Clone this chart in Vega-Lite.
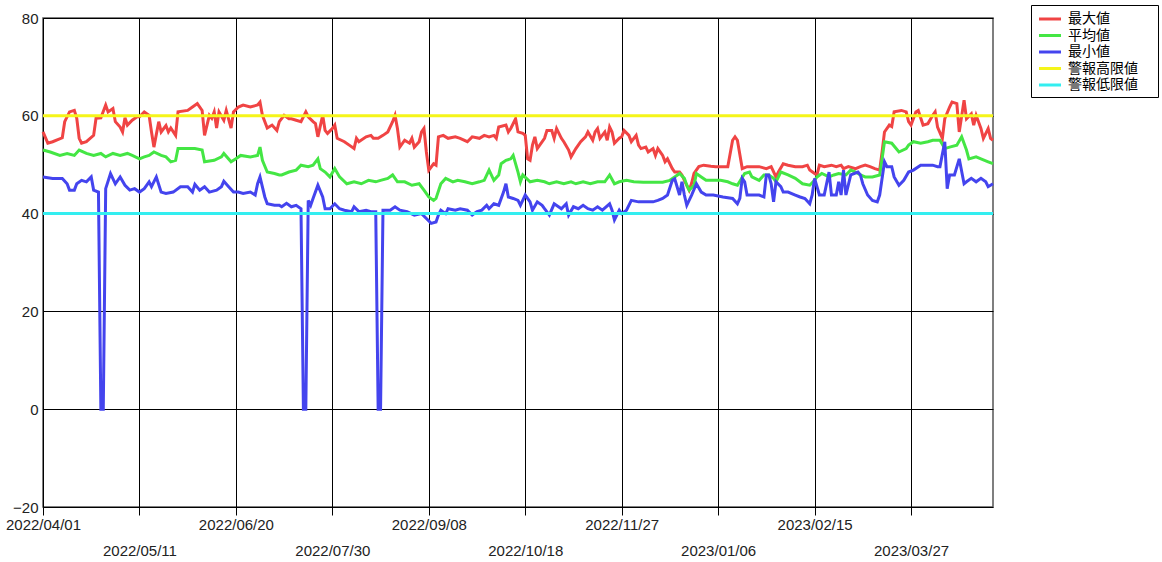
{
  "$schema": "https://vega.github.io/schema/vega-lite/v6.json",
  "width": 950,
  "height": 489,
  "autosize": {"type": "none"},
  "padding": {"left": 43, "top": 18, "right": 169, "bottom": 55},
  "background": "white",
  "config": {
    "view": {"stroke": "#555555", "strokeWidth": 1.5},
    "axis": {"labelFont": "Liberation Sans", "labelFontSize": 15, "labelColor": "#222222", "domain": false, "title": null}
  },
  "datasets": {
    "main": [
      {"date":"2022-04-01","series":"最大値","value":56.7},{"date":"2022-04-03","series":"最大値","value":54.4},{"date":"2022-04-05","series":"最大値","value":54.7},{"date":"2022-04-09","series":"最大値","value":55.5},{"date":"2022-04-10","series":"最大値","value":58.8},{"date":"2022-04-12","series":"最大値","value":60.8},{"date":"2022-04-14","series":"最大値","value":61.1},{"date":"2022-04-15","series":"最大値","value":59.5},{"date":"2022-04-16","series":"最大値","value":55.4},{"date":"2022-04-17","series":"最大値","value":54.4},{"date":"2022-04-19","series":"最大値","value":54.7},{"date":"2022-04-22","series":"最大値","value":56},{"date":"2022-04-23","series":"最大値","value":59.5},{"date":"2022-04-25","series":"最大値","value":59.6},{"date":"2022-04-27","series":"最大値","value":62.2},{"date":"2022-04-28","series":"最大値","value":60.8},{"date":"2022-04-30","series":"最大値","value":61.5},
      {"date":"2022-05-01","series":"最大値","value":58.8},{"date":"2022-05-03","series":"最大値","value":57.7},{"date":"2022-05-04","series":"最大値","value":56.7},{"date":"2022-05-05","series":"最大値","value":59.6},{"date":"2022-05-06","series":"最大値","value":58.1},{"date":"2022-05-08","series":"最大値","value":59.1},{"date":"2022-05-10","series":"最大値","value":59.8},{"date":"2022-05-11","series":"最大値","value":59.8},{"date":"2022-05-13","series":"最大値","value":60.8},{"date":"2022-05-15","series":"最大値","value":60.1},{"date":"2022-05-16","series":"最大値","value":56.7},{"date":"2022-05-17","series":"最大値","value":53.6},{"date":"2022-05-19","series":"最大値","value":58.8},{"date":"2022-05-20","series":"最大値","value":56.7},{"date":"2022-05-22","series":"最大値","value":58},{"date":"2022-05-23","series":"最大値","value":56.7},{"date":"2022-05-24","series":"最大値","value":57.5},{"date":"2022-05-26","series":"最大値","value":56},{"date":"2022-05-27","series":"最大値","value":60.8},{"date":"2022-05-31","series":"最大値","value":61.1},
      {"date":"2022-06-02","series":"最大値","value":61.8},{"date":"2022-06-04","series":"最大値","value":62.5},{"date":"2022-06-06","series":"最大値","value":61.1},{"date":"2022-06-07","series":"最大値","value":56},{"date":"2022-06-09","series":"最大値","value":60.1},{"date":"2022-06-10","series":"最大値","value":59.5},{"date":"2022-06-11","series":"最大値","value":60.8},{"date":"2022-06-12","series":"最大値","value":57.5},{"date":"2022-06-13","series":"最大値","value":60.8},{"date":"2022-06-15","series":"最大値","value":59.1},{"date":"2022-06-16","series":"最大値","value":61.1},{"date":"2022-06-18","series":"最大値","value":57.5},{"date":"2022-06-19","series":"最大値","value":60.8},{"date":"2022-06-21","series":"最大値","value":61.8},{"date":"2022-06-23","series":"最大値","value":62.2},{"date":"2022-06-26","series":"最大値","value":61.8},{"date":"2022-06-29","series":"最大値","value":62.2},{"date":"2022-06-30","series":"最大値","value":62.8},
      {"date":"2022-07-01","series":"最大値","value":60.1},{"date":"2022-07-03","series":"最大値","value":57.5},{"date":"2022-07-05","series":"最大値","value":58.1},{"date":"2022-07-07","series":"最大値","value":57},{"date":"2022-07-08","series":"最大値","value":58.8},{"date":"2022-07-10","series":"最大値","value":60.1},{"date":"2022-07-12","series":"最大値","value":59.4},{"date":"2022-07-13","series":"最大値","value":59.4},{"date":"2022-07-15","series":"最大値","value":59.1},{"date":"2022-07-17","series":"最大値","value":58.8},{"date":"2022-07-19","series":"最大値","value":60.8},{"date":"2022-07-20","series":"最大値","value":59.8},{"date":"2022-07-22","series":"最大値","value":58.8},{"date":"2022-07-23","series":"最大値","value":58.4},{"date":"2022-07-24","series":"最大値","value":55.7},{"date":"2022-07-26","series":"最大値","value":60.1},{"date":"2022-07-27","series":"最大値","value":57},{"date":"2022-07-28","series":"最大値","value":56.4},{"date":"2022-07-30","series":"最大値","value":57.4},{"date":"2022-07-31","series":"最大値","value":58.1},
      {"date":"2022-08-01","series":"最大値","value":55.4},{"date":"2022-08-04","series":"最大値","value":54.7},{"date":"2022-08-06","series":"最大値","value":54},{"date":"2022-08-08","series":"最大値","value":53.3},{"date":"2022-08-09","series":"最大値","value":55.4},{"date":"2022-08-10","series":"最大値","value":54.7},{"date":"2022-08-13","series":"最大値","value":55.7},{"date":"2022-08-15","series":"最大値","value":56},{"date":"2022-08-16","series":"最大値","value":55.4},{"date":"2022-08-18","series":"最大値","value":55.4},{"date":"2022-08-20","series":"最大値","value":56},{"date":"2022-08-22","series":"最大値","value":56.7},{"date":"2022-08-24","series":"最大値","value":58.8},{"date":"2022-08-25","series":"最大値","value":60.1},{"date":"2022-08-26","series":"最大値","value":57.4},{"date":"2022-08-27","series":"最大値","value":53.6},{"date":"2022-08-29","series":"最大値","value":55},{"date":"2022-08-31","series":"最大値","value":54.4},
      {"date":"2022-09-01","series":"最大値","value":55.4},{"date":"2022-09-02","series":"最大値","value":53.6},{"date":"2022-09-04","series":"最大値","value":54.7},{"date":"2022-09-05","series":"最大値","value":56.7},{"date":"2022-09-06","series":"最大値","value":57.4},{"date":"2022-09-07","series":"最大値","value":52.6},{"date":"2022-09-08","series":"最大値","value":48.9},{"date":"2022-09-10","series":"最大値","value":50.2},{"date":"2022-09-11","series":"最大値","value":49.9},{"date":"2022-09-12","series":"最大値","value":55.7},{"date":"2022-09-14","series":"最大値","value":56},{"date":"2022-09-16","series":"最大値","value":55.4},{"date":"2022-09-19","series":"最大値","value":55.7},{"date":"2022-09-21","series":"最大値","value":55.4},{"date":"2022-09-24","series":"最大値","value":54.7},{"date":"2022-09-26","series":"最大値","value":55.7},{"date":"2022-09-29","series":"最大値","value":55.4},
      {"date":"2022-10-01","series":"最大値","value":56},{"date":"2022-10-03","series":"最大値","value":55.7},{"date":"2022-10-05","series":"最大値","value":56},{"date":"2022-10-06","series":"最大値","value":55.4},{"date":"2022-10-07","series":"最大値","value":57.7},{"date":"2022-10-10","series":"最大値","value":58.1},{"date":"2022-10-11","series":"最大値","value":56.7},{"date":"2022-10-12","series":"最大値","value":57.4},{"date":"2022-10-14","series":"最大値","value":59.4},{"date":"2022-10-15","series":"最大値","value":56.7},{"date":"2022-10-17","series":"最大値","value":56.4},{"date":"2022-10-18","series":"最大値","value":56},{"date":"2022-10-19","series":"最大値","value":51.2},{"date":"2022-10-20","series":"最大値","value":50.9},{"date":"2022-10-21","series":"最大値","value":54},{"date":"2022-10-22","series":"最大値","value":55.7},{"date":"2022-10-23","series":"最大値","value":53.3},{"date":"2022-10-26","series":"最大値","value":55.4},{"date":"2022-10-27","series":"最大値","value":57},{"date":"2022-10-29","series":"最大値","value":57},{"date":"2022-10-30","series":"最大値","value":55.4},{"date":"2022-10-31","series":"最大値","value":57.4},
      {"date":"2022-11-02","series":"最大値","value":55.4},{"date":"2022-11-03","series":"最大値","value":54.7},{"date":"2022-11-05","series":"最大値","value":53},{"date":"2022-11-06","series":"最大値","value":51.6},{"date":"2022-11-08","series":"最大値","value":53.3},{"date":"2022-11-10","series":"最大値","value":54.7},{"date":"2022-11-12","series":"最大値","value":55.7},{"date":"2022-11-13","series":"最大値","value":56.7},{"date":"2022-11-15","series":"最大値","value":55},{"date":"2022-11-16","series":"最大値","value":56.7},{"date":"2022-11-17","series":"最大値","value":57.4},{"date":"2022-11-18","series":"最大値","value":55.4},{"date":"2022-11-20","series":"最大値","value":56.7},{"date":"2022-11-21","series":"最大値","value":55},{"date":"2022-11-22","series":"最大値","value":57.7},{"date":"2022-11-23","series":"最大値","value":56.7},{"date":"2022-11-24","series":"最大値","value":54.4},{"date":"2022-11-26","series":"最大値","value":55.4},{"date":"2022-11-27","series":"最大値","value":55.7},{"date":"2022-11-28","series":"最大値","value":57},{"date":"2022-11-30","series":"最大値","value":56},
      {"date":"2022-12-01","series":"最大値","value":54.7},{"date":"2022-12-03","series":"最大値","value":56},{"date":"2022-12-04","series":"最大値","value":54},{"date":"2022-12-05","series":"最大値","value":53.3},{"date":"2022-12-07","series":"最大値","value":53.6},{"date":"2022-12-08","series":"最大値","value":52.6},{"date":"2022-12-10","series":"最大値","value":53.3},{"date":"2022-12-11","series":"最大値","value":51.9},{"date":"2022-12-12","series":"最大値","value":53.3},{"date":"2022-12-14","series":"最大値","value":51.9},{"date":"2022-12-15","series":"最大値","value":50.6},{"date":"2022-12-16","series":"最大値","value":51.2},{"date":"2022-12-18","series":"最大値","value":49.2},{"date":"2022-12-19","series":"最大値","value":48.5},{"date":"2022-12-21","series":"最大値","value":48.5},{"date":"2022-12-22","series":"最大値","value":47.9},{"date":"2022-12-23","series":"最大値","value":46.8},{"date":"2022-12-25","series":"最大値","value":44.8},{"date":"2022-12-26","series":"最大値","value":46.2},{"date":"2022-12-27","series":"最大値","value":48.2},{"date":"2022-12-29","series":"最大値","value":49.6},{"date":"2022-12-31","series":"最大値","value":49.9},
      {"date":"2023-01-03","series":"最大値","value":49.7},{"date":"2023-01-05","series":"最大値","value":49.6},{"date":"2023-01-08","series":"最大値","value":49.6},{"date":"2023-01-10","series":"最大値","value":49.6},{"date":"2023-01-12","series":"最大値","value":55},{"date":"2023-01-13","series":"最大値","value":55.7},{"date":"2023-01-14","series":"最大値","value":55},{"date":"2023-01-16","series":"最大値","value":49.2},{"date":"2023-01-18","series":"最大値","value":49.6},{"date":"2023-01-20","series":"最大値","value":49.6},{"date":"2023-01-23","series":"最大値","value":49.6},{"date":"2023-01-26","series":"最大値","value":49.2},{"date":"2023-01-28","series":"最大値","value":49.6},{"date":"2023-01-30","series":"最大値","value":47.5},{"date":"2023-01-31","series":"最大値","value":48.5},
      {"date":"2023-02-02","series":"最大値","value":50.2},{"date":"2023-02-04","series":"最大値","value":49.9},{"date":"2023-02-07","series":"最大値","value":49.6},{"date":"2023-02-10","series":"最大値","value":49.6},{"date":"2023-02-12","series":"最大値","value":49.9},{"date":"2023-02-13","series":"最大値","value":48.9},{"date":"2023-02-15","series":"最大値","value":48.2},{"date":"2023-02-16","series":"最大値","value":47.9},{"date":"2023-02-17","series":"最大値","value":49.9},{"date":"2023-02-19","series":"最大値","value":49.6},{"date":"2023-02-22","series":"最大値","value":49.9},{"date":"2023-02-24","series":"最大値","value":49.6},{"date":"2023-02-26","series":"最大値","value":49.9},{"date":"2023-02-27","series":"最大値","value":49.2},
      {"date":"2023-03-01","series":"最大値","value":49.6},{"date":"2023-03-04","series":"最大値","value":49.2},{"date":"2023-03-06","series":"最大値","value":49.6},{"date":"2023-03-08","series":"最大値","value":49.9},{"date":"2023-03-10","series":"最大値","value":49.6},{"date":"2023-03-12","series":"最大値","value":49.2},{"date":"2023-03-14","series":"最大値","value":48.9},{"date":"2023-03-15","series":"最大値","value":52.6},{"date":"2023-03-16","series":"最大値","value":56.7},{"date":"2023-03-18","series":"最大値","value":58.1},{"date":"2023-03-19","series":"最大値","value":57.8},{"date":"2023-03-20","series":"最大値","value":60.8},{"date":"2023-03-23","series":"最大値","value":61.1},{"date":"2023-03-25","series":"最大値","value":60.8},{"date":"2023-03-26","series":"最大値","value":58.8},{"date":"2023-03-27","series":"最大値","value":58.1},{"date":"2023-03-29","series":"最大値","value":60.8},{"date":"2023-03-30","series":"最大値","value":61.1},
      {"date":"2023-04-01","series":"最大値","value":58.1},{"date":"2023-04-03","series":"最大値","value":58.4},{"date":"2023-04-05","series":"最大値","value":60.1},{"date":"2023-04-06","series":"最大値","value":60.8},{"date":"2023-04-07","series":"最大値","value":57.7},{"date":"2023-04-09","series":"最大値","value":55.4},{"date":"2023-04-10","series":"最大値","value":59.4},{"date":"2023-04-12","series":"最大値","value":61.8},{"date":"2023-04-13","series":"最大値","value":62.8},{"date":"2023-04-15","series":"最大値","value":62.5},{"date":"2023-04-16","series":"最大値","value":56.7},{"date":"2023-04-18","series":"最大値","value":63.2},{"date":"2023-04-19","series":"最大値","value":59.4},{"date":"2023-04-21","series":"最大値","value":60.4},{"date":"2023-04-22","series":"最大値","value":58.1},{"date":"2023-04-23","series":"最大値","value":60.1},{"date":"2023-04-25","series":"最大値","value":57.4},{"date":"2023-04-26","series":"最大値","value":55.4},{"date":"2023-04-28","series":"最大値","value":57.4},{"date":"2023-04-29","series":"最大値","value":55.4},{"date":"2023-04-30","series":"最大値","value":55},

      {"date":"2022-04-01","series":"平均値","value":53},{"date":"2022-04-04","series":"平均値","value":52.6},{"date":"2022-04-08","series":"平均値","value":51.9},{"date":"2022-04-11","series":"平均値","value":52.3},{"date":"2022-04-14","series":"平均値","value":51.9},{"date":"2022-04-16","series":"平均値","value":53},{"date":"2022-04-19","series":"平均値","value":52.3},{"date":"2022-04-22","series":"平均値","value":51.9},{"date":"2022-04-25","series":"平均値","value":52.3},{"date":"2022-04-27","series":"平均値","value":51.6},{"date":"2022-04-30","series":"平均値","value":52.3},
      {"date":"2022-05-03","series":"平均値","value":51.9},{"date":"2022-05-06","series":"平均値","value":52.3},{"date":"2022-05-08","series":"平均値","value":51.9},{"date":"2022-05-11","series":"平均値","value":51.2},{"date":"2022-05-13","series":"平均値","value":51.6},{"date":"2022-05-15","series":"平均値","value":51.9},{"date":"2022-05-17","series":"平均値","value":52.6},{"date":"2022-05-20","series":"平均値","value":51.9},{"date":"2022-05-22","series":"平均値","value":51.6},{"date":"2022-05-24","series":"平均値","value":50.6},{"date":"2022-05-26","series":"平均値","value":50.9},{"date":"2022-05-27","series":"平均値","value":53.3},{"date":"2022-05-31","series":"平均値","value":53.3},
      {"date":"2022-06-03","series":"平均値","value":53.3},{"date":"2022-06-06","series":"平均値","value":53},{"date":"2022-06-07","series":"平均値","value":50.6},{"date":"2022-06-11","series":"平均値","value":50.9},{"date":"2022-06-14","series":"平均値","value":51.6},{"date":"2022-06-15","series":"平均値","value":52.3},{"date":"2022-06-18","series":"平均値","value":50.6},{"date":"2022-06-20","series":"平均値","value":51.2},{"date":"2022-06-22","series":"平均値","value":51.9},{"date":"2022-06-26","series":"平均値","value":51.6},{"date":"2022-06-29","series":"平均値","value":51.9},{"date":"2022-06-30","series":"平均値","value":53.6},
      {"date":"2022-07-01","series":"平均値","value":50.9},{"date":"2022-07-03","series":"平均値","value":48.5},{"date":"2022-07-06","series":"平均値","value":48.2},{"date":"2022-07-08","series":"平均値","value":47.9},{"date":"2022-07-09","series":"平均値","value":47.9},{"date":"2022-07-12","series":"平均値","value":48.5},{"date":"2022-07-15","series":"平均値","value":48.9},{"date":"2022-07-17","series":"平均値","value":49.9},{"date":"2022-07-20","series":"平均値","value":49.6},{"date":"2022-07-22","series":"平均値","value":49.9},{"date":"2022-07-24","series":"平均値","value":51.2},{"date":"2022-07-25","series":"平均値","value":49.2},{"date":"2022-07-27","series":"平均値","value":48.5},{"date":"2022-07-29","series":"平均値","value":47.5},{"date":"2022-07-31","series":"平均値","value":49.2},
      {"date":"2022-08-02","series":"平均値","value":47.5},{"date":"2022-08-05","series":"平均値","value":46.1},{"date":"2022-08-08","series":"平均値","value":46.5},{"date":"2022-08-11","series":"平均値","value":46.1},{"date":"2022-08-14","series":"平均値","value":46.8},{"date":"2022-08-17","series":"平均値","value":46.5},{"date":"2022-08-19","series":"平均値","value":46.8},{"date":"2022-08-22","series":"平均値","value":47.2},{"date":"2022-08-24","series":"平均値","value":47.9},{"date":"2022-08-26","series":"平均値","value":46.5},{"date":"2022-08-29","series":"平均値","value":46.5},
      {"date":"2022-09-01","series":"平均値","value":45.8},{"date":"2022-09-04","series":"平均値","value":46.1},{"date":"2022-09-06","series":"平均値","value":44.8},{"date":"2022-09-08","series":"平均値","value":43.4},{"date":"2022-09-10","series":"平均値","value":42.7},{"date":"2022-09-11","series":"平均値","value":43.1},{"date":"2022-09-13","series":"平均値","value":46.1},{"date":"2022-09-15","series":"平均値","value":47.2},{"date":"2022-09-18","series":"平均値","value":46.5},{"date":"2022-09-20","series":"平均値","value":46.8},{"date":"2022-09-23","series":"平均値","value":46.5},{"date":"2022-09-26","series":"平均値","value":46.1},{"date":"2022-09-29","series":"平均値","value":46.5},
      {"date":"2022-10-01","series":"平均値","value":46.8},{"date":"2022-10-03","series":"平均値","value":48.9},{"date":"2022-10-05","series":"平均値","value":46.8},{"date":"2022-10-07","series":"平均値","value":47.9},{"date":"2022-10-08","series":"平均値","value":50.2},{"date":"2022-10-10","series":"平均値","value":50.9},{"date":"2022-10-12","series":"平均値","value":51.2},{"date":"2022-10-13","series":"平均値","value":51.9},{"date":"2022-10-15","series":"平均値","value":48.5},{"date":"2022-10-16","series":"平均値","value":46.5},{"date":"2022-10-17","series":"平均値","value":47.9},{"date":"2022-10-20","series":"平均値","value":46.5},{"date":"2022-10-23","series":"平均値","value":46.8},{"date":"2022-10-26","series":"平均値","value":46.5},{"date":"2022-10-28","series":"平均値","value":46.1},{"date":"2022-10-31","series":"平均値","value":46.5},
      {"date":"2022-11-03","series":"平均値","value":46.1},{"date":"2022-11-06","series":"平均値","value":46.5},{"date":"2022-11-08","series":"平均値","value":46.1},{"date":"2022-11-11","series":"平均値","value":46.5},{"date":"2022-11-14","series":"平均値","value":46.1},{"date":"2022-11-17","series":"平均値","value":46.5},{"date":"2022-11-20","series":"平均値","value":46.5},{"date":"2022-11-22","series":"平均値","value":47.9},{"date":"2022-11-24","series":"平均値","value":46.1},{"date":"2022-11-26","series":"平均値","value":46.5},{"date":"2022-11-29","series":"平均値","value":46.8},
      {"date":"2022-12-02","series":"平均値","value":46.5},{"date":"2022-12-06","series":"平均値","value":46.4},{"date":"2022-12-10","series":"平均値","value":46.4},{"date":"2022-12-14","series":"平均値","value":46.4},{"date":"2022-12-17","series":"平均値","value":46.8},{"date":"2022-12-19","series":"平均値","value":47.5},{"date":"2022-12-21","series":"平均値","value":48.2},{"date":"2022-12-23","series":"平均値","value":47.2},{"date":"2022-12-24","series":"平均値","value":45.8},{"date":"2022-12-25","series":"平均値","value":44.8},{"date":"2022-12-27","series":"平均値","value":45.8},{"date":"2022-12-28","series":"平均値","value":48.2},{"date":"2022-12-30","series":"平均値","value":47.5},
      {"date":"2023-01-01","series":"平均値","value":46.8},{"date":"2023-01-04","series":"平均値","value":46.8},{"date":"2023-01-07","series":"平均値","value":46.8},{"date":"2023-01-10","series":"平均値","value":46.5},{"date":"2023-01-12","series":"平均値","value":46.1},{"date":"2023-01-14","series":"平均値","value":45.8},{"date":"2023-01-17","series":"平均値","value":48.2},{"date":"2023-01-19","series":"平均値","value":48.5},{"date":"2023-01-20","series":"平均値","value":47.5},{"date":"2023-01-23","series":"平均値","value":46.8},{"date":"2023-01-25","series":"平均値","value":47.9},{"date":"2023-01-27","series":"平均値","value":47.9},{"date":"2023-01-29","series":"平均値","value":47.2},{"date":"2023-01-30","series":"平均値","value":46.5},
      {"date":"2023-02-01","series":"平均値","value":48.5},{"date":"2023-02-04","series":"平均値","value":47.9},{"date":"2023-02-07","series":"平均値","value":47.2},{"date":"2023-02-10","series":"平均値","value":46.1},{"date":"2023-02-13","series":"平均値","value":45.8},{"date":"2023-02-15","series":"平均値","value":46.8},{"date":"2023-02-16","series":"平均値","value":47.5},{"date":"2023-02-18","series":"平均値","value":48.2},{"date":"2023-02-21","series":"平均値","value":47.5},{"date":"2023-02-23","series":"平均値","value":47.9},{"date":"2023-02-25","series":"平均値","value":48.2},{"date":"2023-02-28","series":"平均値","value":47.9},
      {"date":"2023-03-02","series":"平均値","value":48.9},{"date":"2023-03-04","series":"平均値","value":48.5},{"date":"2023-03-06","series":"平均値","value":47.9},{"date":"2023-03-08","series":"平均値","value":47.5},{"date":"2023-03-11","series":"平均値","value":47.5},{"date":"2023-03-14","series":"平均値","value":47.9},{"date":"2023-03-15","series":"平均値","value":51.2},{"date":"2023-03-16","series":"平均値","value":54.7},{"date":"2023-03-19","series":"平均値","value":54.4},{"date":"2023-03-22","series":"平均値","value":52.6},{"date":"2023-03-25","series":"平均値","value":53.3},{"date":"2023-03-26","series":"平均値","value":54},{"date":"2023-03-28","series":"平均値","value":54.7},{"date":"2023-03-31","series":"平均値","value":54.4},
      {"date":"2023-04-03","series":"平均値","value":54.7},{"date":"2023-04-05","series":"平均値","value":55},{"date":"2023-04-08","series":"平均値","value":55},{"date":"2023-04-10","series":"平均値","value":53.3},{"date":"2023-04-12","series":"平均値","value":53.6},{"date":"2023-04-15","series":"平均値","value":54},{"date":"2023-04-17","series":"平均値","value":55.7},{"date":"2023-04-19","series":"平均値","value":53},{"date":"2023-04-20","series":"平均値","value":51.2},{"date":"2023-04-23","series":"平均値","value":51.6},{"date":"2023-04-25","series":"平均値","value":51.2},{"date":"2023-04-28","series":"平均値","value":50.6},{"date":"2023-04-30","series":"平均値","value":50.2},

      {"date":"2022-04-01","series":"最小値","value":47.5},{"date":"2022-04-05","series":"最小値","value":47.2},{"date":"2022-04-09","series":"最小値","value":47.2},{"date":"2022-04-11","series":"最小値","value":46.1},{"date":"2022-04-12","series":"最小値","value":44.8},{"date":"2022-04-14","series":"最小値","value":44.8},{"date":"2022-04-15","series":"最小値","value":46.1},{"date":"2022-04-17","series":"最小値","value":46.8},{"date":"2022-04-19","series":"最小値","value":46.5},{"date":"2022-04-21","series":"最小値","value":47.5},{"date":"2022-04-22","series":"最小値","value":44.8},{"date":"2022-04-24","series":"最小値","value":44.4},{"date":"2022-04-25","series":"最小値","value":0},{"date":"2022-04-26","series":"最小値","value":0},{"date":"2022-04-27","series":"最小値","value":45.1},{"date":"2022-04-29","series":"最小値","value":48.2},
      {"date":"2022-05-01","series":"最小値","value":46.1},{"date":"2022-05-03","series":"最小値","value":47.5},{"date":"2022-05-05","series":"最小値","value":45.8},{"date":"2022-05-07","series":"最小値","value":44.8},{"date":"2022-05-09","series":"最小値","value":45.1},{"date":"2022-05-11","series":"最小値","value":44.4},{"date":"2022-05-13","series":"最小値","value":45.1},{"date":"2022-05-15","series":"最小値","value":46.5},{"date":"2022-05-16","series":"最小値","value":45.5},{"date":"2022-05-18","series":"最小値","value":47.5},{"date":"2022-05-20","series":"最小値","value":44.4},{"date":"2022-05-22","series":"最小値","value":44.1},{"date":"2022-05-25","series":"最小値","value":44.4},{"date":"2022-05-28","series":"最小値","value":45.5},{"date":"2022-05-31","series":"最小値","value":45.5},
      {"date":"2022-06-02","series":"最小値","value":44.4},{"date":"2022-06-03","series":"最小値","value":46},{"date":"2022-06-05","series":"最小値","value":44.8},{"date":"2022-06-07","series":"最小値","value":45.5},{"date":"2022-06-09","series":"最小値","value":44.4},{"date":"2022-06-12","series":"最小値","value":44.8},{"date":"2022-06-14","series":"最小値","value":45.5},{"date":"2022-06-15","series":"最小値","value":46.6},{"date":"2022-06-17","series":"最小値","value":45.5},{"date":"2022-06-19","series":"最小値","value":44.4},{"date":"2022-06-21","series":"最小値","value":44.4},{"date":"2022-06-23","series":"最小値","value":44.1},{"date":"2022-06-26","series":"最小値","value":44.4},{"date":"2022-06-28","series":"最小値","value":43.8},{"date":"2022-06-29","series":"最小値","value":46.1},{"date":"2022-06-30","series":"最小値","value":47.5},
      {"date":"2022-07-02","series":"最小値","value":43.4},{"date":"2022-07-03","series":"最小値","value":42},{"date":"2022-07-06","series":"最小値","value":41.7},{"date":"2022-07-08","series":"最小値","value":41.7},{"date":"2022-07-09","series":"最小値","value":41.4},{"date":"2022-07-11","series":"最小値","value":42.1},{"date":"2022-07-13","series":"最小値","value":41.4},{"date":"2022-07-15","series":"最小値","value":41.7},{"date":"2022-07-17","series":"最小値","value":41},{"date":"2022-07-18","series":"最小値","value":0},{"date":"2022-07-19","series":"最小値","value":0},{"date":"2022-07-20","series":"最小値","value":42.7},{"date":"2022-07-21","series":"最小値","value":41.7},{"date":"2022-07-22","series":"最小値","value":43.1},{"date":"2022-07-24","series":"最小値","value":45.8},{"date":"2022-07-26","series":"最小値","value":43.4},{"date":"2022-07-27","series":"最小値","value":41},{"date":"2022-07-29","series":"最小値","value":41},{"date":"2022-07-31","series":"最小値","value":42},
      {"date":"2022-08-02","series":"最小値","value":41},{"date":"2022-08-04","series":"最小値","value":40.7},{"date":"2022-08-07","series":"最小値","value":40.4},{"date":"2022-08-08","series":"最小値","value":41.4},{"date":"2022-08-10","series":"最小値","value":40.4},{"date":"2022-08-13","series":"最小値","value":40.7},{"date":"2022-08-15","series":"最小値","value":40.4},{"date":"2022-08-17","series":"最小値","value":40.4},{"date":"2022-08-18","series":"最小値","value":0},{"date":"2022-08-19","series":"最小値","value":0},{"date":"2022-08-20","series":"最小値","value":40.7},{"date":"2022-08-23","series":"最小値","value":40.7},{"date":"2022-08-25","series":"最小値","value":41.4},{"date":"2022-08-27","series":"最小値","value":40.7},{"date":"2022-08-30","series":"最小値","value":40.4},
      {"date":"2022-09-02","series":"最小値","value":39.7},{"date":"2022-09-05","series":"最小値","value":40},{"date":"2022-09-07","series":"最小値","value":39},{"date":"2022-09-09","series":"最小値","value":38},{"date":"2022-09-11","series":"最小値","value":38.3},{"date":"2022-09-12","series":"最小値","value":39.7},{"date":"2022-09-13","series":"最小値","value":40.7},{"date":"2022-09-15","series":"最小値","value":40},{"date":"2022-09-16","series":"最小値","value":41},{"date":"2022-09-19","series":"最小値","value":40.7},{"date":"2022-09-21","series":"最小値","value":41},{"date":"2022-09-24","series":"最小値","value":40.7},{"date":"2022-09-26","series":"最小値","value":39.7},{"date":"2022-09-28","series":"最小値","value":40.4},{"date":"2022-09-30","series":"最小値","value":40.7},
      {"date":"2022-10-02","series":"最小値","value":41.7},{"date":"2022-10-03","series":"最小値","value":41},{"date":"2022-10-05","series":"最小値","value":42},{"date":"2022-10-07","series":"最小値","value":41.7},{"date":"2022-10-09","series":"最小値","value":44.4},{"date":"2022-10-10","series":"最小値","value":46.1},{"date":"2022-10-11","series":"最小値","value":43.4},{"date":"2022-10-13","series":"最小値","value":43.1},{"date":"2022-10-15","series":"最小値","value":42.7},{"date":"2022-10-16","series":"最小値","value":41.7},{"date":"2022-10-18","series":"最小値","value":43.8},{"date":"2022-10-20","series":"最小値","value":42.4},{"date":"2022-10-21","series":"最小値","value":40.7},{"date":"2022-10-23","series":"最小値","value":42.4},{"date":"2022-10-25","series":"最小値","value":41.7},{"date":"2022-10-26","series":"最小値","value":41},{"date":"2022-10-28","series":"最小値","value":39.7},{"date":"2022-10-30","series":"最小値","value":42},
      {"date":"2022-11-02","series":"最小値","value":41},{"date":"2022-11-04","series":"最小値","value":42},{"date":"2022-11-05","series":"最小値","value":39.7},{"date":"2022-11-07","series":"最小値","value":41.4},{"date":"2022-11-09","series":"最小値","value":41},{"date":"2022-11-11","series":"最小値","value":41.7},{"date":"2022-11-13","series":"最小値","value":41},{"date":"2022-11-15","series":"最小値","value":40.7},{"date":"2022-11-17","series":"最小値","value":41.4},{"date":"2022-11-19","series":"最小値","value":40.7},{"date":"2022-11-22","series":"最小値","value":42},{"date":"2022-11-23","series":"最小値","value":40.7},{"date":"2022-11-24","series":"最小値","value":38.7},{"date":"2022-11-26","series":"最小値","value":40.7},{"date":"2022-11-27","series":"最小値","value":40},{"date":"2022-11-29","series":"最小値","value":40.7},
      {"date":"2022-12-01","series":"最小値","value":42.7},{"date":"2022-12-04","series":"最小値","value":42.4},{"date":"2022-12-07","series":"最小値","value":42.4},{"date":"2022-12-10","series":"最小値","value":42.4},{"date":"2022-12-12","series":"最小値","value":42.7},{"date":"2022-12-14","series":"最小値","value":43.1},{"date":"2022-12-16","series":"最小値","value":43.8},{"date":"2022-12-18","series":"最小値","value":46.8},{"date":"2022-12-19","series":"最小値","value":47.1},{"date":"2022-12-21","series":"最小値","value":43.8},{"date":"2022-12-22","series":"最小値","value":46.5},{"date":"2022-12-23","series":"最小値","value":43.8},{"date":"2022-12-24","series":"最小値","value":41.7},{"date":"2022-12-26","series":"最小値","value":43.8},{"date":"2022-12-28","series":"最小値","value":46.1},{"date":"2022-12-30","series":"最小値","value":44.4},
      {"date":"2023-01-01","series":"最小値","value":43.8},{"date":"2023-01-04","series":"最小値","value":43.8},{"date":"2023-01-08","series":"最小値","value":43.4},{"date":"2023-01-12","series":"最小値","value":43.1},{"date":"2023-01-14","series":"最小値","value":42},{"date":"2023-01-15","series":"最小値","value":43.1},{"date":"2023-01-16","series":"最小値","value":47.2},{"date":"2023-01-17","series":"最小値","value":46.5},{"date":"2023-01-18","series":"最小値","value":43.8},{"date":"2023-01-19","series":"最小値","value":43.8},{"date":"2023-01-23","series":"最小値","value":43.8},{"date":"2023-01-25","series":"最小値","value":43.4},{"date":"2023-01-26","series":"最小値","value":47.9},{"date":"2023-01-27","series":"最小値","value":47.9},{"date":"2023-01-28","series":"最小値","value":46.1},{"date":"2023-01-29","series":"最小値","value":42.4},{"date":"2023-01-30","series":"最小値","value":46.5},
      {"date":"2023-02-01","series":"最小値","value":45.5},{"date":"2023-02-02","series":"最小値","value":44.4},{"date":"2023-02-04","series":"最小値","value":44.4},{"date":"2023-02-07","series":"最小値","value":43.8},{"date":"2023-02-09","series":"最小値","value":43.4},{"date":"2023-02-11","series":"最小値","value":43.1},{"date":"2023-02-13","series":"最小値","value":42},{"date":"2023-02-14","series":"最小値","value":43.8},{"date":"2023-02-15","series":"最小値","value":47.2},{"date":"2023-02-17","series":"最小値","value":43.8},{"date":"2023-02-19","series":"最小値","value":43.8},{"date":"2023-02-21","series":"最小値","value":48.5},{"date":"2023-02-22","series":"最小値","value":43.8},{"date":"2023-02-24","series":"最小値","value":43.8},{"date":"2023-02-25","series":"最小値","value":46.5},{"date":"2023-02-26","series":"最小値","value":43.8},{"date":"2023-02-27","series":"最小値","value":48.9},{"date":"2023-02-28","series":"最小値","value":43.8},
      {"date":"2023-03-02","series":"最小値","value":47.9},{"date":"2023-03-05","series":"最小値","value":48.5},{"date":"2023-03-06","series":"最小値","value":47.9},{"date":"2023-03-07","series":"最小値","value":46.1},{"date":"2023-03-09","series":"最小値","value":43.8},{"date":"2023-03-11","series":"最小値","value":42.7},{"date":"2023-03-13","series":"最小値","value":42.4},{"date":"2023-03-14","series":"最小値","value":43.8},{"date":"2023-03-16","series":"最小値","value":50.6},{"date":"2023-03-17","series":"最小値","value":49.6},{"date":"2023-03-19","series":"最小値","value":49.6},{"date":"2023-03-20","series":"最小値","value":47.5},{"date":"2023-03-22","series":"最小値","value":45.8},{"date":"2023-03-24","series":"最小値","value":46.8},{"date":"2023-03-26","series":"最小値","value":48.5},{"date":"2023-03-28","series":"最小値","value":48.9},{"date":"2023-03-31","series":"最小値","value":49.9},
      {"date":"2023-04-03","series":"最小値","value":49.9},{"date":"2023-04-05","series":"最小値","value":49.9},{"date":"2023-04-07","series":"最小値","value":49.6},{"date":"2023-04-08","series":"最小値","value":49.6},{"date":"2023-04-10","series":"最小値","value":54.7},{"date":"2023-04-11","series":"最小値","value":45.1},{"date":"2023-04-12","series":"最小値","value":47.9},{"date":"2023-04-14","series":"最小値","value":47.9},{"date":"2023-04-16","series":"最小値","value":51.2},{"date":"2023-04-18","series":"最小値","value":46.1},{"date":"2023-04-19","series":"最小値","value":46.5},{"date":"2023-04-21","series":"最小値","value":47.2},{"date":"2023-04-23","series":"最小値","value":46.5},{"date":"2023-04-25","series":"最小値","value":47.2},{"date":"2023-04-27","series":"最小値","value":46.5},{"date":"2023-04-28","series":"最小値","value":45.5},{"date":"2023-04-30","series":"最小値","value":46.1}
    ],
    "limits": [
      {"series": "警報高限値", "value": 60},
      {"series": "警報低限値", "value": 40}
    ]
  },
  "encoding": {
    "color": {
      "field": "series",
      "type": "nominal",
      "scale": {
        "domain": ["最大値", "平均値", "最小値", "警報高限値", "警報低限値"],
        "range": ["#f04444", "#44e644", "#4444ee", "#f5f51a", "#33eef0"]
      },
      "legend": {
        "title": "　",
        "titleOrient": "right",
        "titlePadding": 15,
        "titleFont": "Noto Sans CJK JP",
        "titleFontSize": 14,
        "orient": "none",
        "legendX": 988,
        "legendY": -13,
        "symbolType": "M-1.47,0H1.47",
        "symbolSize": 225,
        "symbolStrokeWidth": 3,
        "symbolOffset": 5,
        "labelFont": "Noto Sans CJK JP",
        "labelFontSize": 14,
        "labelColor": "#000000",
        "labelOffset": 9,
        "rowPadding": 0.5,
        "padding": 5,
        "strokeColor": "#000000",
        "fillColor": "#ffffff"
      }
    }
  },
  "layer": [
    {
      "data": {"name": "main"},
      "mark": {"type": "line", "strokeWidth": 3, "interpolate": "linear"},
      "encoding": {
        "x": {
          "field": "date",
          "type": "temporal",
          "scale": {
            "type": "utc",
            "domain": [{"year": 2022, "month": 4, "date": 1, "utc": true}, {"year": 2023, "month": 4, "date": 30, "utc": true}]
          },
          "axis": {
            "values": [
              {"year": 2022, "month": 4, "date": 1, "utc": true},
              {"year": 2022, "month": 5, "date": 11, "utc": true},
              {"year": 2022, "month": 6, "date": 20, "utc": true},
              {"year": 2022, "month": 7, "date": 30, "utc": true},
              {"year": 2022, "month": 9, "date": 8, "utc": true},
              {"year": 2022, "month": 10, "date": 18, "utc": true},
              {"year": 2022, "month": 11, "date": 27, "utc": true},
              {"year": 2023, "month": 1, "date": 6, "utc": true},
              {"year": 2023, "month": 2, "date": 15, "utc": true},
              {"year": 2023, "month": 3, "date": 27, "utc": true}
            ],
            "labelExpr": "utcFormat(datum.value, '%Y/%m/%d')",
            "grid": true,
            "gridColor": "#000000",
            "gridWidth": 1,
            "gridOpacity": 1,
            "ticks": true,
            "tickSize": 8,
            "tickColor": "#000000",
            "tickWidth": 1,
            "labelOverlap": false,
            "labelFlush": false,
            "labelBound": false,
            "labelPadding": {
              "condition": {"test": "round((datum.value - utc(2022,3,1)) / 3456000000) % 2 == 1", "value": 28},
              "value": 2
            }
          }
        },
        "y": {
          "field": "value",
          "type": "quantitative",
          "scale": {"domain": [-20, 80], "nice": false, "zero": false},
          "axis": {
            "values": [-20, 0, 20, 40, 60, 80],
            "grid": true,
            "gridColor": "#000000",
            "gridWidth": 1,
            "gridOpacity": 1,
            "ticks": true,
            "tickSize": -12,
            "tickColor": "#000000",
            "labelPadding": 17
          }
        }
      }
    },
    {
      "data": {"name": "limits"},
      "mark": {"type": "rule", "strokeWidth": 3},
      "encoding": {
        "y": {"field": "value", "type": "quantitative"}
      }
    }
  ]
}
